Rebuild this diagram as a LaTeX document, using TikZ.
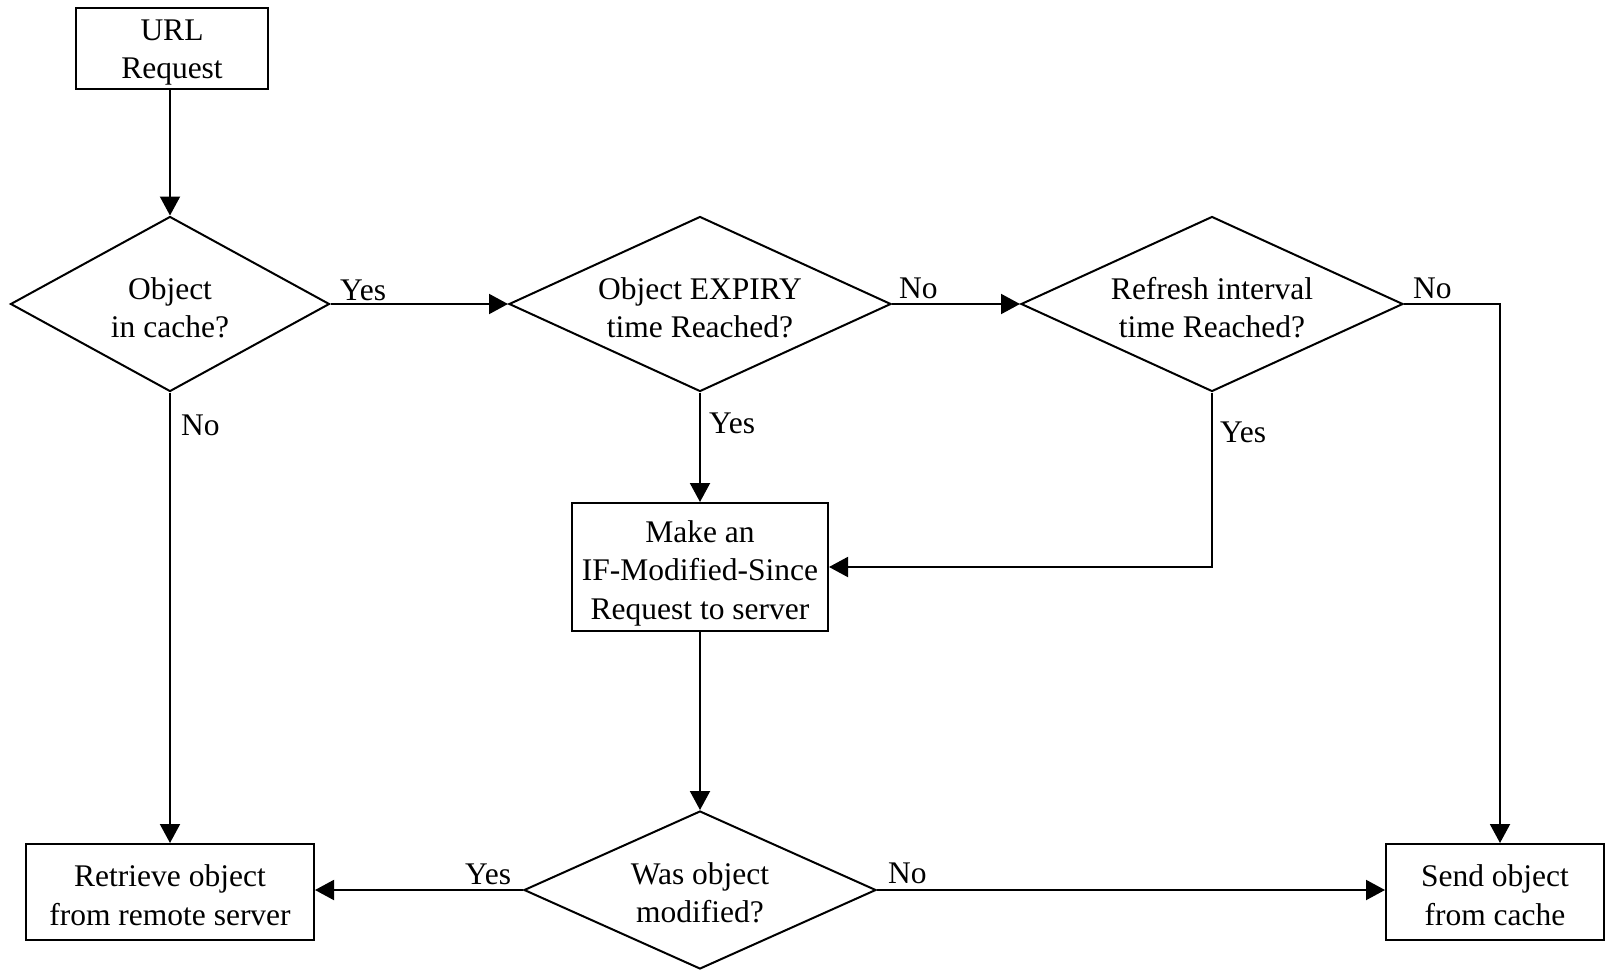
\documentclass[tikz,border=0pt]{standalone}
\usepackage{fontspec}
\setmainfont{Liberation Serif}
\usetikzlibrary{shapes.geometric,arrows.meta,calc}
\newcommand\tpush[1]{\rule{0pt}{#1}}
\begin{document}
\begin{tikzpicture}[x=1pt,y=-1pt,
  every node/.style={font=\fontsize{31.5}{38.4}\selectfont},
  box/.style={draw,line width=2pt,inner sep=0pt,align=center},
  dia/.style={draw,diamond,line width=2pt,inner sep=0pt,align=center},
  lbl/.style={anchor=base west,inner sep=0pt},
  flow/.style={line width=2pt,-{Triangle[length=19pt,width=20pt]}}]
\useasboundingbox (0,0) rectangle (1606,971);
\node[box,minimum width=192pt,minimum height=81pt] (url) at (172,48.5) {\tpush{29pt}URL\\Request};
\node[dia,aspect=1.82,minimum width=319pt,minimum height=175pt] (d1) at (170,304) {\tpush{30pt}Object\\in cache?};
\node[dia,aspect=2.18,minimum width=382pt,minimum height=175pt] (d2) at (700,304) {\tpush{30pt}Object EXPIRY\\time Reached?};
\node[dia,aspect=2.18,minimum width=382pt,minimum height=175pt] (d3) at (1212,304) {\tpush{30pt}Refresh interval\\time Reached?};
\node[box,minimum width=256pt,minimum height=128pt] (make) at (700,567) {\tpush{34pt}Make an\\IF-Modified-Since\\Request to server};
\node[dia,aspect=2.23,minimum width=352pt,minimum height=158pt] (d4) at (700,890) {\tpush{28pt}Was object\\modified?};
\node[box,minimum width=288pt,minimum height=96pt] (ret) at (170,892) {\tpush{28pt}Retrieve object\\from remote server};
\node[box,minimum width=218pt,minimum height=96pt] (send) at (1495,892) {\tpush{28pt}Send object\\from cache};
\coordinate (c1) at (1500,304);
\draw[flow] (url.south -| d1.north) -- (d1.north);
\draw[flow] (d1.east) -- (d2.west);
\draw[flow] (d2.east) -- (d3.west);
\draw[flow] (d3.east) -- (c1) -- (c1 |- send.north);
\draw[flow] (d1.south) -- (ret.north);
\draw[flow] (d2.south) -- (make.north);
\draw[flow] (d3.south) |- (make.east);
\draw[flow] (make.south) -- (d4.north);
\draw[flow] (d4.west) -- (d4.west -| ret.east);
\draw[flow] (d4.east) -- (d4.east -| send.west);
\node[lbl] (l1) at (340,300) {Yes};
\node[lbl] (l2) at (181,435) {No};
\node[lbl] (l3) at (899,298) {No};
\node[lbl] (l4) at (709,433) {Yes};
\node[lbl] (l5) at (1413,298) {No};
\node[lbl] (l6) at (1220,442) {Yes};
\node[lbl] (l7) at (465,884) {Yes};
\node[lbl] (l8) at (888,883) {No};
\end{tikzpicture}
\end{document}
